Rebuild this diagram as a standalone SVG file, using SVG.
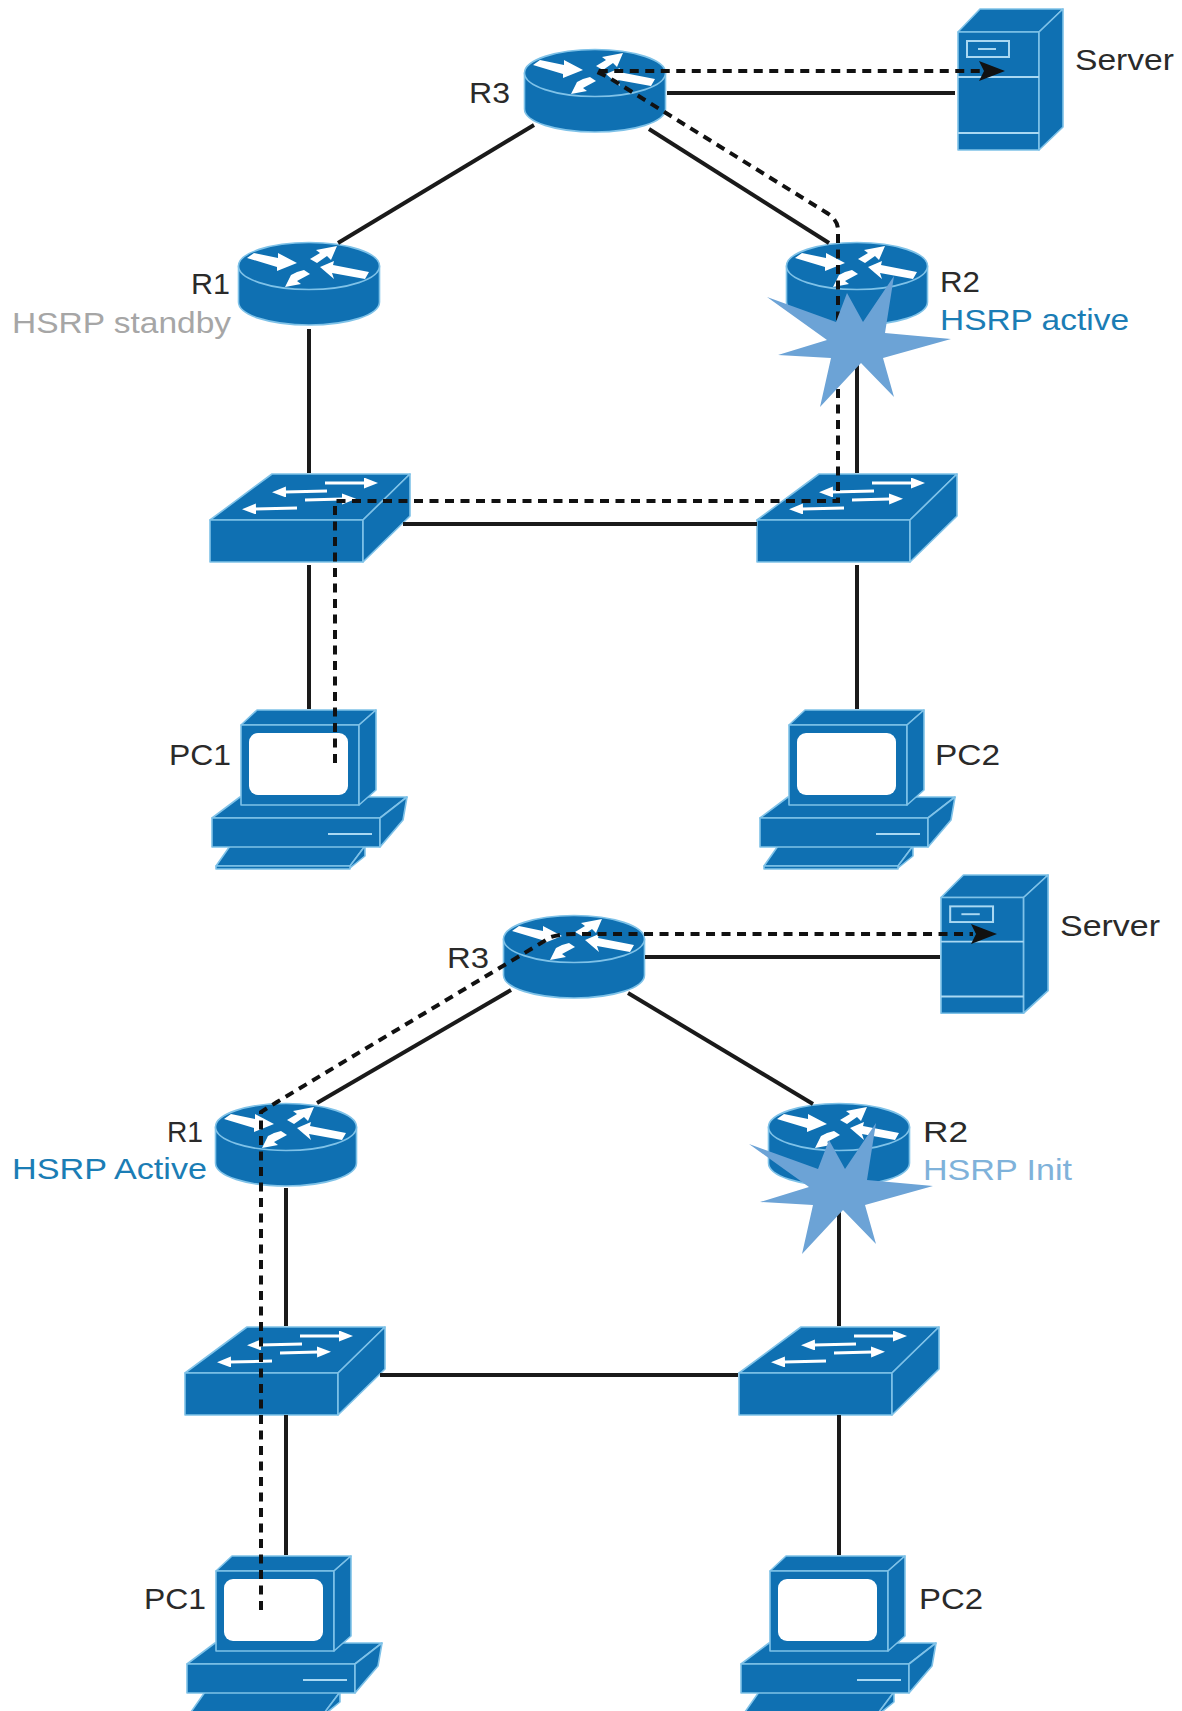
<svg xmlns="http://www.w3.org/2000/svg" width="1182" height="1711" viewBox="0 0 1182 1711">
<style>
.b{fill:#0f70b2;stroke:#7fc2e8;stroke-width:1.6;stroke-linejoin:round}
.w{fill:#fff}
.wl{stroke:#fff;stroke-width:3;fill:none}
.ls{stroke:#a9d8f2;stroke-width:2;fill:none}
.c{stroke:#1a1a1a;stroke-width:4;fill:none}
.d{stroke:#111;stroke-width:4;fill:none;stroke-dasharray:9 6.5}
.star{fill:#6ca3d6}
text{font-family:"Liberation Sans",Arial,sans-serif;font-size:30px;fill:#2a2a2a}
.a{fill:#1b7db5}.g{fill:#a6a6a6}.i{fill:#7fb2da}
</style>
<defs>
<marker id="tip" markerUnits="userSpaceOnUse" markerWidth="26" markerHeight="22" refX="2" refY="11" orient="auto"><polygon points="0,1 26,11 0,21 5,11" fill="#111"/></marker>
<marker id="wh" markerUnits="userSpaceOnUse" markerWidth="15" markerHeight="11" refX="1" refY="5.5" orient="auto"><polygon points="0,0 14,5.5 0,11" fill="#fff"/></marker>
<g id="router">
<path class="b" d="M-70.5 0V36C-70.5 49 -39 59 0 59S70.5 49 70.5 36V0Z"/>
<ellipse class="b" cx="0" cy="0" rx="70.5" ry="23.5"/>
<polygon class="w" points="-62,-8 -55,-13 -31,-8 -31,-13 -12,-3 -32,5 -32,1"/>
<polygon class="w" points="1,-7 11,-13 7,-16 28,-20 22,-6 18,-10 8,-3"/>
<polygon class="w" points="-12,6 -18,9 -24,21 -8,18 -12,15 1,8 -5,4"/>
<polygon class="w" points="11,1 25,-5 24,-1 60,6 56,13 23,7 25,13"/>
</g>
<g id="switch">
<polygon class="b" points="0,46 62,0 200,0 153,46"/>
<rect class="b" x="0" y="46" width="153" height="42"/>
<polygon class="b" points="153,46 200,0 200,42 153,88"/>
<line class="wl" x1="115" y1="9" x2="155" y2="9" marker-end="url(#wh)"/>
<line class="wl" x1="117" y1="17" x2="75" y2="18" marker-end="url(#wh)"/>
<line class="wl" x1="95" y1="26" x2="133" y2="25" marker-end="url(#wh)"/>
<line class="wl" x1="87" y1="34" x2="45" y2="35" marker-end="url(#wh)"/>
</g>
<g id="pc">
<polygon class="b" points="18,136 153,136 138,156 4,156"/>
<polygon class="b" points="153,136 153,146 138,158 138,156"/>
<rect class="b" x="4" y="156" width="134" height="3"/>
<polygon class="b" points="0,108 28,87 195,87 168,108"/>
<rect class="b" x="0" y="108" width="168" height="29"/>
<polygon class="b" points="168,108 195,87 191,110 168,137"/>
<line class="ls" x1="116" y1="124" x2="160" y2="124"/>
<polygon class="b" points="29,15 45,0 164,0 147,15"/>
<rect class="b" x="29" y="15" width="118" height="80"/>
<polygon class="b" points="147,15 164,0 164,80 147,95"/>
<rect class="w" x="37" y="23" width="99" height="62" rx="9"/>
</g>
<g id="server">
<polygon class="b" points="0,23 22,0 105,0 81,23"/>
<rect class="b" x="0" y="23" width="81" height="118"/>
<polygon class="b" points="81,23 105,0 105,118 81,141"/>
<line class="ls" x1="0" y1="68" x2="81" y2="68"/>
<line class="ls" x1="0" y1="124" x2="81" y2="124"/>
<rect class="ls" x="9" y="32" width="42" height="16"/>
<line class="ls" x1="20" y1="40" x2="38" y2="40"/>
</g>
<polygon id="burst" class="star" points="767,297 836,322 847,293 863,322 894,276 885,333 951,339 883,358 894,397 861,363 820,407 831,358 778,355 827,340"/>
</defs>

<g id="top-R3"><use href="#router" x="595" y="73"/><text x="469" y="103" textLength="41" lengthAdjust="spacingAndGlyphs">R3</text></g>
<g id="top-Server"><use href="#server" x="958" y="9"/><text x="1075" y="70" textLength="99" lengthAdjust="spacingAndGlyphs">Server</text></g>
<g id="top-R1"><use href="#router" x="309" y="266"/><text x="191" y="294" textLength="39" lengthAdjust="spacingAndGlyphs">R1</text><text class="g" x="12" y="333" textLength="219" lengthAdjust="spacingAndGlyphs">HSRP standby</text></g>
<g id="top-R2"><use href="#router" x="857" y="266"/><text x="940" y="292" textLength="40" lengthAdjust="spacingAndGlyphs">R2</text><text class="a" x="940" y="330" textLength="189" lengthAdjust="spacingAndGlyphs">HSRP active</text></g>
<g id="top-SW1"><use href="#switch" x="210" y="474"/></g>
<g id="top-SW2"><use href="#switch" x="757" y="474"/></g>
<g id="top-PC1"><use href="#pc" x="212" y="710"/><text x="169" y="765" textLength="62" lengthAdjust="spacingAndGlyphs">PC1</text></g>
<g id="top-PC2"><use href="#pc" x="760" y="710"/><text x="935" y="765" textLength="65" lengthAdjust="spacingAndGlyphs">PC2</text></g>

<g id="bottom-R3"><use href="#router" x="574" y="939"/><text x="447" y="968" textLength="42" lengthAdjust="spacingAndGlyphs">R3</text></g>
<g id="bottom-Server"><use href="#server" transform="translate(941,875) scale(1.02,.98)"/><text x="1060" y="936" textLength="100" lengthAdjust="spacingAndGlyphs">Server</text></g>
<g id="bottom-R1"><use href="#router" x="286" y="1127"/><text x="167" y="1142" textLength="36" lengthAdjust="spacingAndGlyphs">R1</text><text class="a" x="12" y="1179" textLength="195" lengthAdjust="spacingAndGlyphs">HSRP Active</text></g>
<g id="bottom-R2"><use href="#router" x="839" y="1127"/><text x="923" y="1142" textLength="45" lengthAdjust="spacingAndGlyphs">R2</text><text class="i" x="923" y="1180" textLength="149" lengthAdjust="spacingAndGlyphs">HSRP Init</text></g>
<g id="bottom-SW1"><use href="#switch" x="185" y="1327"/></g>
<g id="bottom-SW2"><use href="#switch" x="739" y="1327"/></g>
<g id="bottom-PC1"><use href="#pc" x="187" y="1556"/><text x="144" y="1609" textLength="62" lengthAdjust="spacingAndGlyphs">PC1</text></g>
<g id="bottom-PC2"><use href="#pc" x="741" y="1556"/><text x="919" y="1609" textLength="64" lengthAdjust="spacingAndGlyphs">PC2</text></g>

<g id="connectors">
<line class="c" x1="534" y1="125" x2="338" y2="243"/>
<line class="c" x1="649" y1="129" x2="829" y2="243"/>
<line class="c" x1="667" y1="93" x2="955" y2="93"/>
<line class="c" x1="309" y1="329" x2="309" y2="473"/>
<line class="c" x1="857" y1="345" x2="857" y2="473"/>
<line class="c" x1="403" y1="524" x2="757" y2="524"/>
<line class="c" x1="309" y1="565" x2="309" y2="709"/>
<line class="c" x1="857" y1="565" x2="857" y2="709"/>
<path class="d" d="M335 763V501H838V230Q838 220 827 213L608 77L595 71H981" marker-end="url(#tip)"/>

<line class="c" x1="511" y1="990" x2="317" y2="1103"/>
<line class="c" x1="628" y1="993" x2="813" y2="1104"/>
<line class="c" x1="645" y1="957" x2="940" y2="957"/>
<line class="c" x1="286" y1="1188" x2="286" y2="1326"/>
<line class="c" x1="839" y1="1190" x2="839" y2="1326"/>
<line class="c" x1="380" y1="1375" x2="738" y2="1375"/>
<line class="c" x1="286" y1="1415" x2="286" y2="1555"/>
<line class="c" x1="839" y1="1415" x2="839" y2="1555"/>
<path class="d" d="M261 1610V1112L277 1102L551 937Q560 934 575 934H973" marker-end="url(#tip)"/>
</g>

<g id="failure-top"><use href="#burst"/></g>
<g id="failure-bottom"><use href="#burst" x="-18" y="847"/></g>
</svg>
